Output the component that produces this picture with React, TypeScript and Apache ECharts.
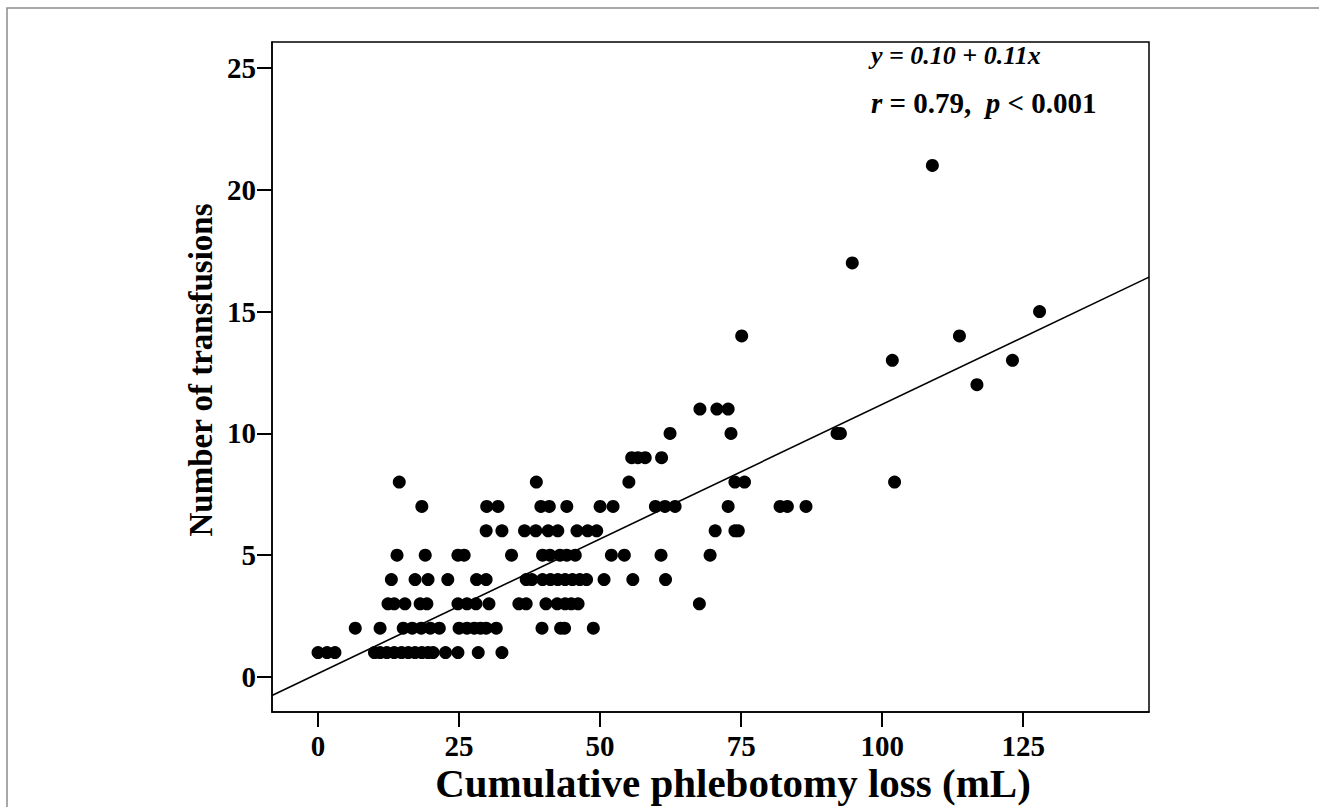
import React, { useEffect, useRef } from "react";
import * as echarts from "echarts";

// Number of transfusions (y) and the cumulative phlebotomy loss (mL, x) of each point in that row
const transfusionCounts = [1, 2, 3, 4, 5, 6, 7, 8, 9, 10, 11, 12, 13, 14, 15, 17, 21];
const lossRow1 = [0, 1.6, 3.0, 10.0, 11.0, 12.2, 13.5, 14.8, 16.0, 17.2, 18.4, 19.5, 20.4, 22.6, 24.8, 28.4, 32.6];
const lossRow2 = [6.6, 11.0, 15.1, 16.7, 18.3, 19.9, 21.5, 25.0, 26.4, 27.7, 28.8, 29.8, 31.6, 39.7, 43.0, 43.7, 48.8];
const lossRow3 = [12.4, 13.5, 15.4, 18.1, 19.3, 24.8, 26.4, 28.0, 30.3, 35.6, 36.9, 40.4, 42.4, 43.8, 44.9, 46.1, 67.6];
const lossRow4 = [13.0, 17.2, 19.5, 23.0, 28.1, 29.8, 36.9, 37.9, 39.8, 41.2, 42.5, 43.8, 45.1, 46.4, 47.6, 50.7, 55.8, 61.6];
const lossRow5 = [14.0, 19.0, 24.8, 25.9, 34.3, 39.8, 41.1, 42.9, 44.1, 45.6, 52.0, 54.3, 60.8, 69.5];
const lossRow6 = [29.8, 32.6, 36.6, 38.6, 40.8, 42.5, 45.9, 47.8, 49.4, 70.4, 73.9, 74.5];
const lossRow7 = [18.4, 29.9, 31.9, 39.5, 41.0, 44.1, 50.0, 52.3, 59.8, 61.5, 63.3, 72.7, 81.9, 83.2, 86.5];
const lossRow8 = [14.4, 38.7, 55.1, 73.9, 75.6, 102.2];
const lossRow9 = [55.6, 56.7, 58.0, 60.9];
const lossRow10 = [62.4, 73.2, 92.0, 92.6];
const lossRow11 = [67.7, 70.7, 72.7];
const lossRow12 = [116.8];
const lossRow13 = [101.8, 123.1];
const lossRow14 = [75.1, 113.7];
const lossRow15 = [127.9];
const lossRow17 = [94.7];
const lossRow21 = [108.9];
const lossRows = [
  lossRow1, lossRow2, lossRow3, lossRow4, lossRow5, lossRow6, lossRow7, lossRow8, lossRow9,
  lossRow10, lossRow11, lossRow12, lossRow13, lossRow14, lossRow15, lossRow17, lossRow21,
];

const xTicks = [0, 25, 50, 75, 100, 125];
const yTicks = [0, 5, 10, 15, 20, 25];
const xMin = -8.16;
const xMax = 147.3;
const yMin = -1.44;
const yMax = 26.07;

// Fitted line (unrounded coefficients as drawn); printed rounded as y = 0.10 + 0.11x
const lineIntercept = 0.14;
const lineSlope = 0.1105;

const equationText = "y = 0.10 + 0.11x";
const statsText = "{i|r} = 0.79,  {i|p} < 0.001";
const xTitle = "Cumulative phlebotomy loss (mL)";
const yTitle = "Number of transfusions";

const FONT = "'Liberation Serif', 'Times New Roman', serif";

export default function App() {
  const ref = useRef<HTMLDivElement>(null);

  useEffect(() => {
    if (!ref.current) return;
    const chart = echarts.init(ref.current, undefined, { renderer: "svg" });

    const points: number[][] = [];
    lossRows.forEach((row, i) => {
      row.forEach((x) => points.push([x, transfusionCounts[i]]));
    });

    const option: any = {
      animation: false,
      backgroundColor: "#fff",
      grid: {
        left: 272,
        top: 42,
        right: 170,
        bottom: 95,
        show: true,
        borderColor: "#000",
        borderWidth: 1.5,
        backgroundColor: "transparent",
      },
      xAxis: {
        type: "value",
        min: xMin,
        max: xMax,
        splitLine: { show: false },
        axisLine: { show: true, onZero: false, lineStyle: { color: "#000", width: 1.5 } },
        axisTick: { show: true, length: 15, customValues: xTicks, lineStyle: { color: "#000", width: 2 } },
        axisLabel: {
          customValues: xTicks,
          margin: 19,
          color: "#000",
          fontFamily: FONT,
          fontWeight: "bold",
          fontSize: 29,
        },
      },
      yAxis: {
        type: "value",
        min: yMin,
        max: yMax,
        splitLine: { show: false },
        axisLine: { show: true, onZero: false, lineStyle: { color: "#000", width: 1.5 } },
        axisTick: { show: true, length: 15, customValues: yTicks, lineStyle: { color: "#000", width: 2 } },
        axisLabel: {
          customValues: yTicks,
          margin: 16,
          color: "#000",
          fontFamily: FONT,
          fontWeight: "bold",
          fontSize: 29,
        },
      },
      series: [
        {
          type: "line",
          data: [
            [xMin, lineIntercept + lineSlope * xMin],
            [xMax, lineIntercept + lineSlope * xMax],
          ],
          symbol: "none",
          lineStyle: { color: "#000", width: 1.6 },
          silent: true,
          z: 1,
        },
        {
          type: "scatter",
          data: points,
          symbol: "circle",
          symbolSize: 13,
          itemStyle: { color: "#000", opacity: 1 },
          z: 2,
        },
      ],
      graphic: [
        {
          type: "rect",
          shape: { x: 7, y: 8, width: 1400, height: 900 },
          style: { fill: "none", stroke: "#8c8c8c", lineWidth: 1.5 },
          silent: true,
        },
        {
          type: "text",
          x: 733,
          y: 783,
          style: {
            text: xTitle,
            font: `bold 41px ${FONT}`,
            fill: "#000",
            textAlign: "center",
            textVerticalAlign: "middle",
          },
        },
        {
          type: "text",
          x: 201,
          y: 370,
          rotation: Math.PI / 2,
          style: {
            text: yTitle,
            font: `bold 33px ${FONT}`,
            fill: "#000",
            textAlign: "center",
            textVerticalAlign: "middle",
          },
        },
        {
          type: "text",
          x: 871,
          y: 55,
          style: {
            text: equationText,
            font: `italic bold 26px ${FONT}`,
            fill: "#000",
            textAlign: "left",
            textVerticalAlign: "middle",
          },
        },
        {
          type: "text",
          x: 871,
          y: 103,
          style: {
            text: statsText,
            font: `bold 29px ${FONT}`,
            fill: "#000",
            textAlign: "left",
            textVerticalAlign: "middle",
            rich: {
              i: { font: `italic bold 29px ${FONT}`, fill: "#000" },
            },
          },
        },
      ],
    };

    chart.setOption(option);
    return () => chart.dispose();
  }, []);

  return (
    <div
      ref={ref}
      style={{ position: "fixed", left: 0, top: 0, width: 1319, height: 807, background: "#fff" }}
    />
  );
}
